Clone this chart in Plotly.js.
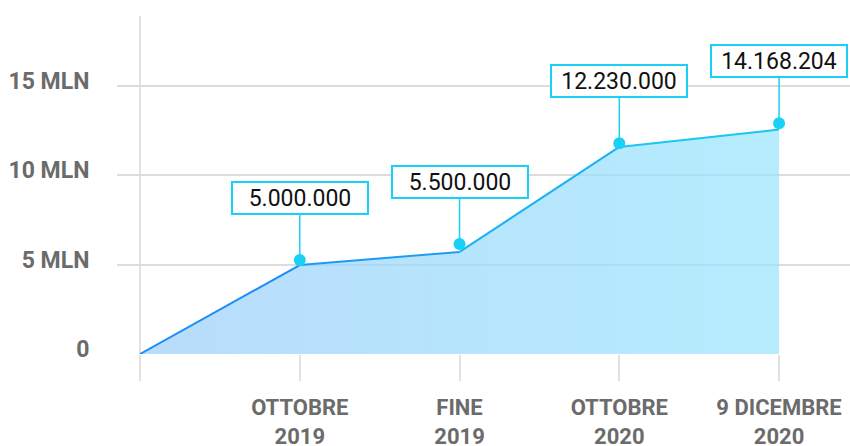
<!DOCTYPE html>
<html>
<head>
<meta charset="utf-8">
<script src="https://cdn.plot.ly/plotly-3.0.1.min.js"></script>
<style>html,body{margin:0;padding:0;background:#fff;}#chart{width:850px;height:446px;}</style>
</head>
<body>
<div id="chart"></div>
<script>
// Data (millions)
const categories = ["", "OTTOBRE<br>2019", "FINE<br>2019", "OTTOBRE<br>2020", "9 DICEMBRE<br>2020"];
const lineValues = [0, 4.97, 5.71, 11.58, 12.55];
const markerValues = [5.25, 6.15, 11.79, 12.9];
const labelTexts = ["5.000.000", "5.500.000", "12.230.000", "14.168.204"];
const yTickVals = [0, 5, 10, 15];
const yTickText = ["0", "5 MLN", "10 MLN", "15 MLN"];

const xIdx = categories.map((c, i) => i);
const segColors = ['#1a8cf7', '#1a9cf5', '#1ab2f2', '#1ac6f2'];

const traces = [];
traces.push({
  x: xIdx, y: lineValues, type: 'scatter', mode: 'lines',
  line: {width: 0, color: 'rgba(0,0,0,0)'},
  fill: 'tozeroy',
  fillgradient: {type: 'horizontal', colorscale: [[0, 'rgba(154,205,249,0.7)'], [1, 'rgba(149,229,254,0.7)']]},
  hoverinfo: 'skip', showlegend: false
});
for (let i = 0; i < lineValues.length - 1; i++) {
  traces.push({
    x: xIdx.slice(i, i + 2), y: lineValues.slice(i, i + 2), type: 'scatter', mode: 'lines',
    line: {width: 2, color: segColors[i]}, showlegend: false, hoverinfo: 'skip'
  });
}
traces.push({
  x: xIdx.slice(1), y: markerValues, type: 'scatter', mode: 'markers',
  marker: {size: 12, color: '#1ad0f5'}, showlegend: false, hoverinfo: 'skip', cliponaxis: false
});

const annotations = markerValues.map((v, i) => ({
  x: xIdx[i + 1], y: v, xref: 'x', yref: 'y',
  text: labelTexts[i], showarrow: true, arrowhead: 0, arrowwidth: 1.5, arrowcolor: '#1ad0f5',
  ax: 0, ay: -62, standoff: 0,
  bgcolor: '#ffffff', bordercolor: '#1ad0f5', borderwidth: 2, borderpad: 2,
  width: 130, height: 26,
  font: {family: 'Roboto', size: 23, color: '#111111'}
}));

const layout = {
  width: 850, height: 446,
  margin: {l: 117, r: 0, t: 16, b: 92},
  paper_bgcolor: '#ffffff', plot_bgcolor: '#ffffff',
  xaxis: {
    range: [-0.144, 4.444], tickvals: xIdx, ticktext: categories,
    showgrid: false, zeroline: false, showline: false,
    ticks: 'outside', ticklen: 26, tickwidth: 2, tickcolor: '#e2e2e2',
    ticklabelstandoff: 8,
    tickfont: {family: 'Roboto', size: 22, color: '#6b6b6b', weight: 'bold'},
    fixedrange: true
  },
  yaxis: {
    range: [0, 18.9], tickvals: yTickVals, ticktext: yTickText,
    showgrid: true, gridcolor: '#dcdcdc', gridwidth: 2, zeroline: false, showline: false,
    ticks: 'outside', ticklen: 22, tickcolor: 'rgba(0,0,0,0)',
    ticklabelshift: -5,
    tickfont: {family: 'Roboto', size: 23, color: '#6b6b6b', weight: 'bold'},
    fixedrange: true
  },
  shapes: [{
    type: 'line', xref: 'x', yref: 'paper', x0: 0, x1: 0, y0: 0, y1: 1,
    line: {color: '#e2e2e2', width: 2}, layer: 'below'
  }],
  annotations: annotations,
  showlegend: false
};

Plotly.newPlot('chart', traces, layout, {displayModeBar: false, staticPlot: true});
</script>
</body>
</html>
